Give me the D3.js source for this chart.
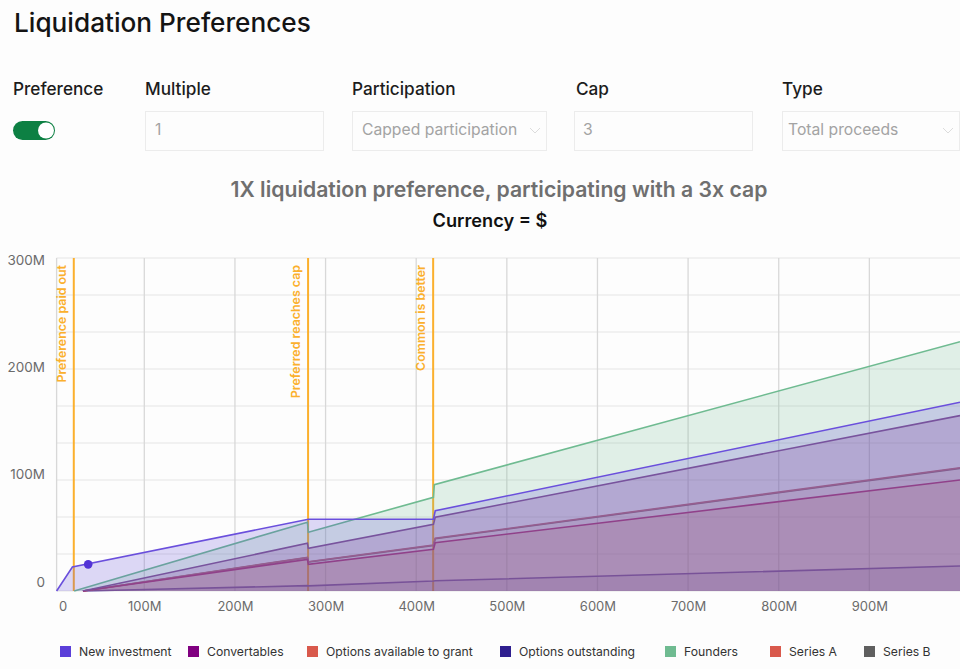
<!DOCTYPE html>
<html>
<head>
<meta charset="utf-8">
<title>Liquidation Preferences</title>
<script src="https://cdn.jsdelivr.net/npm/d3@7"></script>
<style>
  html, body { margin: 0; padding: 0; background: #fdfdfd; }
  svg { display: block; font-family: Inter, "Noto Sans", sans-serif; }
</style>
</head>
<body>
<svg id="chart" width="960" height="669"></svg>
<script>
// values, in millions
const seriesNames = ['Options outstanding', 'Series B', 'Options available to grant', 'Series A', 'Convertables', 'Founders', 'New investment'];
const seriesColors = ['#2f1f8f', '#5f5f5f', '#d9594c', '#d9594c', '#800080', '#6fbb91', '#5b3fd9'];
// the lines overlap in the picture, so they read darker than the legend swatches
const strokeColors = ['#6a4fa8', '#8c6a7c', '#c26a78', '#b8306e', '#85408f', '#6fbb91', '#6a4fdc'];

const exitValues = [30, 280, 281, 419, 421, 1000];
const foundersExit = [20, 280, 281, 419, 420, 1000];
const investmentExit = [0, 18, 281, 419, 421, 1000];

const optionsOutstanding = [0, 4.8, 4.6, 9, 9.2, 22.5];
const seriesA = [0, 28.5, 24, 37.6, 43.5, 100];
const optionsAvailable = [0, 30.3, 26.4, 41.4, 47.5, 111];
const seriesB = [0, 30, 26, 41, 47, 110.5];
const convertables = [0, 43, 38.5, 60, 66.4, 158];
const founders = [0, 62, 53, 84.4, 95.8, 224.6];
const newInvestment = [0, 21.6, 64.6, 64.6, 72.3, 170];

const xTicks = [100, 200, 300, 400, 500, 600, 700, 800, 900];
const yGrid = [0, 33.33, 66.67, 100, 133.33, 166.67, 200, 233.33, 266.67, 300];
const yLabels = [0, 100, 200, 300];

const markers = [
  { x: 19.6, label: 'Preference paid out' },
  { x: 280.7, label: 'Preferred reaches cap' },
  { x: 418.7, label: 'Common is better' }
];
const legendOrder = ['New investment', 'Convertables', 'Options available to grant', 'Options outstanding', 'Founders', 'Series A', 'Series B'];
const legendX = [60, 188, 307, 500, 665, 770, 864];

const svg = d3.select('#chart');

// header
svg.append('text').attr('x', 14).attr('y', 32)
  .attr('font-size', 26.2).attr('font-weight', 500).attr('fill', '#141414')
  .text('Liquidation Preferences');

// form controls above the chart
const fields = [
  { label: 'Preference', x: 13 },
  { label: 'Multiple', x: 145, w: 178, value: '1', pad: 10 },
  { label: 'Participation', x: 352, w: 194, value: 'Capped participation', select: true, pad: 10 },
  { label: 'Cap', x: 576, bx: 574, w: 178, value: '3', pad: 9 },
  { label: 'Type', x: 782, w: 177, value: 'Total proceeds', select: true, pad: 6 }
];

fields.forEach(f => {
  svg.append('text').attr('x', f.x).attr('y', 95)
    .attr('font-size', 17.2).attr('font-weight', 500).attr('fill', '#1c1c1c')
    .text(f.label);
  if (!f.w) return;
  const bx = f.bx || f.x;
  svg.append('rect').attr('x', bx + 0.5).attr('y', 111.5).attr('width', f.w).attr('height', 39)
    .attr('fill', '#fdfdfd').attr('stroke', '#ececec');
  svg.append('text').attr('x', bx + f.pad).attr('y', 135)
    .attr('font-size', 15.7).attr('fill', '#a3a3a3').text(f.value);
  if (f.select) {
    svg.append('path')
      .attr('d', d3.line()([[bx + f.w - 16, 128], [bx + f.w - 11, 133], [bx + f.w - 6, 128]]))
      .attr('fill', 'none').attr('stroke', '#dcdcdc');
  }
});

// toggle
svg.append('rect').attr('x', 13).attr('y', 121).attr('width', 42).attr('height', 19).attr('rx', 9.5).attr('fill', '#0d8043');
svg.append('circle').attr('cx', 46).attr('cy', 130.5).attr('r', 8).attr('fill', '#fff');

// titles
svg.append('text').attr('x', 499).attr('y', 197).attr('text-anchor', 'middle')
  .attr('font-size', 21.2).attr('font-weight', 600).attr('fill', '#6f6f6f')
  .text('1X liquidation preference, participating with a 3x cap');
svg.append('text').attr('x', 490).attr('y', 227).attr('text-anchor', 'middle')
  .attr('font-size', 18.2).attr('font-weight', 600).attr('fill', '#111')
  .text('Currency = $');

// scales. the first tick sits a bit off the regular spacing in the picture
const x = d3.scaleLinear().domain([0, 100, 1000]).range([56.6, 144.3, 960]);
const y = d3.scaleLinear().domain([0, 300]).range([591, 258]);
const yLabelPos = d3.scaleLinear().domain([0, 300]).range([582, 260]);

// grid
svg.append('g').selectAll('line').data(yGrid).join('line')
  .attr('x1', x(0)).attr('x2', 960)
  .attr('y1', d => y(d)).attr('y2', d => y(d))
  .attr('stroke', '#ececec').attr('stroke-width', 1.5);

svg.append('g').selectAll('line').data([0].concat(xTicks)).join('line')
  .attr('x1', d => x(d)).attr('x2', d => x(d))
  .attr('y1', y(300)).attr('y2', y(0))
  .attr('stroke', '#d8d8d8').attr('stroke-width', 1.3);

// marker lines go under the areas
svg.append('g').selectAll('line').data(markers).join('line')
  .attr('x1', d => x(d.x)).attr('x2', d => x(d.x))
  .attr('y1', y(300)).attr('y2', y(0))
  .attr('stroke', '#fbb02d').attr('stroke-width', 2);

svg.append('g').selectAll('text').data(markers).join('text')
  .attr('transform', d => `translate(${x(d.x) - 8},265) rotate(-90)`)
  .attr('text-anchor', 'end')
  .attr('font-size', 12.4).attr('font-weight', 600).attr('fill', '#fbb02d')
  .text(d => d.label);

// areas, not stacked: each one runs down to the baseline
const seriesValues = [optionsOutstanding, seriesB, optionsAvailable, seriesA, convertables, founders, newInvestment];
const seriesExits = [exitValues, exitValues, exitValues, exitValues, exitValues, foundersExit, investmentExit];
const fillOpacity = [0.14, 0.03, 0.1, 0.2, 0.22, 0.2, 0.2];

const area = d3.area().x(d => x(d[0])).y0(y(0)).y1(d => y(d[1]));
const line = d3.line().x(d => x(d[0])).y(d => y(d[1]));

seriesNames.forEach((name, i) => {
  const pts = seriesExits[i].map((v, j) => [v, seriesValues[i][j]]);
  svg.append('path').datum(pts).attr('d', area)
    .attr('fill', seriesColors[i]).attr('fill-opacity', fillOpacity[i]);
  svg.append('path').datum(pts).attr('d', line)
    .attr('fill', 'none').attr('stroke', strokeColors[i]).attr('stroke-width', 1.6);
});

// dot on the new investment line
svg.append('circle').attr('cx', x(36)).attr('cy', y(24)).attr('r', 4.3).attr('fill', '#5333d6');

// axes
const xAxis = svg.append('g').attr('transform', `translate(0,${y(0)})`)
  .call(d3.axisBottom(x).tickValues([0].concat(xTicks)).tickFormat(d => d === 0 ? '0' : d + 'M').tickSize(0).tickPadding(11));
xAxis.select('.domain').remove();
xAxis.selectAll('text')
  .attr('font-family', 'Inter').attr('font-size', 13).attr('fill', '#6b6b6b')
  .attr('dx', d => d === 0 ? 6 : 0);

svg.append('g').selectAll('text').data(yLabels).join('text')
  .attr('x', 45).attr('y', d => yLabelPos(d)).attr('dy', '0.35em')
  .attr('text-anchor', 'end')
  .attr('font-size', 13.5).attr('fill', '#6b6b6b')
  .text(d => d === 0 ? '0' : d + 'M');

// legend
const legendColors = { 'New investment': '#5b3fd9', 'Convertables': '#800080', 'Options available to grant': '#d9594c', 'Options outstanding': '#2f1f8f', 'Founders': '#6fbb91', 'Series A': '#d9594c', 'Series B': '#5f5f5f' };

const legend = svg.append('g').selectAll('g').data(legendOrder).join('g')
  .attr('transform', (d, i) => `translate(${legendX[i]},646)`);
legend.append('rect').attr('width', 11).attr('height', 11).attr('fill', d => legendColors[d]);
legend.append('text').attr('x', 19).attr('y', 5.5).attr('dy', '0.35em')
  .attr('font-size', 12.2).attr('fill', '#333').text(d => d);
</script>
</body>
</html>
